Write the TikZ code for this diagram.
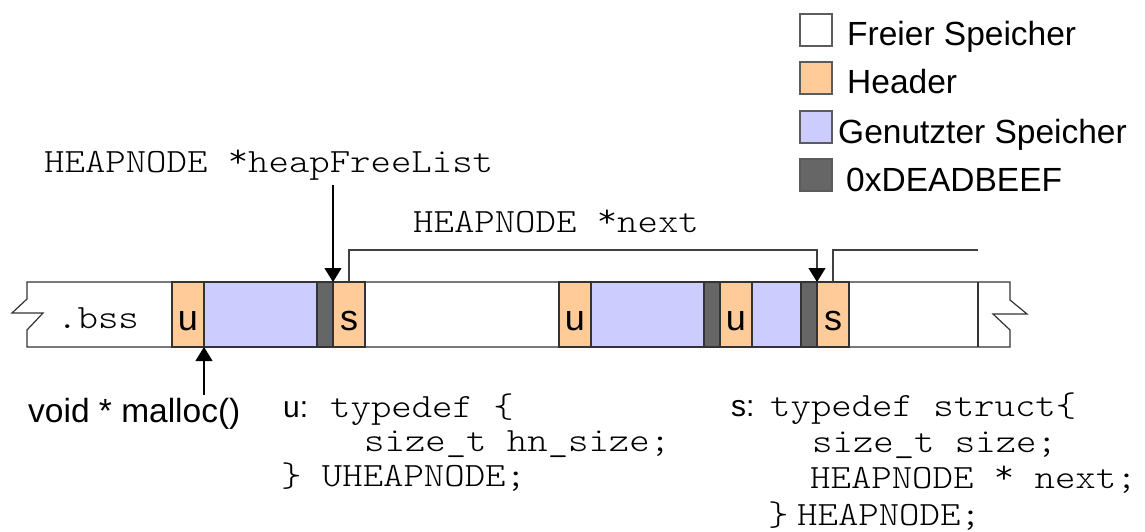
\documentclass[tikz,border=0pt]{standalone}
\usepackage{fontspec}
\setmainfont{Liberation Sans}
\setsansfont{Liberation Sans}
\setmonofont[FakeStretch=1.143]{Latin Modern Mono Light}
\usetikzlibrary{arrows.meta,calc}
\definecolor{hdr}{HTML}{FFCC99}
\definecolor{used}{HTML}{CCCCFF}
\definecolor{beef}{HTML}{666666}
\definecolor{edge}{HTML}{333333}
\definecolor{wire}{HTML}{404040}
% raised pointer star, as in Courier
\newcommand\cstar{\raisebox{5pt}{*}}
\begin{document}
\begin{tikzpicture}[x=1pt,y=-1pt,
  seg/.style={draw=edge,line width=1.2pt,minimum height=65pt,inner sep=0pt,outer sep=0pt,anchor=west},
  hdrseg/.style={seg,fill=hdr,minimum width=32pt},
  usedseg/.style={seg,fill=used},
  beefseg/.style={seg,fill=beef,minimum width=16pt},
  cell/.style={font=\fontsize{36}{36}\selectfont\sffamily,inner sep=0pt,anchor=base},
  code/.style={font=\fontsize{34}{34}\selectfont\ttfamily,inner sep=0pt,anchor=base west},
  tag/.style={font=\fontsize{30}{30}\selectfont\sffamily,inner sep=0pt,anchor=base west},
  caption/.style={font=\fontsize{33.5}{33.5}\selectfont\sffamily,inner sep=0pt,anchor=base west},
  keybox/.style={draw=edge!80,line width=1.2pt,minimum size=32pt,inner sep=0pt,outer sep=0pt,anchor=north west},
  tip/.style={-{Triangle[width=17pt,length=14pt,color=black]}},
  ptr/.style={line width=1.2pt,tip},
  link/.style={draw=wire,line width=1.2pt},
]
\useasboundingbox (0,0) rectangle (1145,532);

% memory strip outline with broken ends
\draw[draw=edge,line width=1.2pt,fill=white]
  (27,282) -- (1010,282) -- (1010,300) -- (1027,314) -- (993,314) -- (1010,330)
  -- (1010,347) -- (27,347) -- (27,330) -- (43,313) -- (12,313) -- (27,299) -- cycle;

% blocks of the heap
\node[hdrseg]                      (u1) at (172,314.5) {};
\node[usedseg,minimum width=113pt] (b1) at (204,314.5) {};
\node[beefseg]                     (d1) at (317,314.5) {};
\node[hdrseg]                      (s1) at (333,314.5) {};
\node[hdrseg]                      (u2) at (559,314.5) {};
\node[usedseg,minimum width=113pt] (b2) at (591,314.5) {};
\node[beefseg]                     (d2) at (704,314.5) {};
\node[hdrseg]                      (u3) at (720,314.5) {};
\node[usedseg,minimum width=49pt]  (b3) at (752,314.5) {};
\node[beefseg]                     (d3) at (801,314.5) {};
\node[hdrseg]                      (s2) at (817,314.5) {};
\node[seg,draw=none,minimum width=32pt] (f3) at (978,314.5) {};
\draw[draw=edge,line width=1.2pt] (f3.north west) -- (f3.south west);

% letters in the header blocks
\node[cell] (lu1) at ([yshift=17pt]u1.south) {u};
\node[cell] (ls1) at ([yshift=17pt]s1.south) {s};
\node[cell] (lu2) at ([yshift=17pt]u2.south) {u};
\node[cell] (lu3) at ([yshift=17pt]u3.south) {u};
\node[cell] (ls2) at ([yshift=17pt]s2.south) {s};

\node[code] (bss) at (57,328) {.bss};

% pointers into the heap
\node[code] (hfl) at (44,172) {HEAPNODE \cstar heapFreeList};
\coordinate (hfltail) at (333,185);
\draw[ptr] (hfltail) -- (s1.north west);

\node[code] (nxt) at (413,232) {HEAPNODE \cstar next};
\draw[link,tip] (s1.north) -- ++(0,-32) -| (s2.north west);
\coordinate (nextend) at (978,250);
\draw[link] (s2.north) |- (nextend);

\node[caption] (mal) at (28,422) {void * malloc()};
\coordinate (maltail) at (204,395);
\draw[ptr] (maltail) -- (u1.south east);

% header type definitions
\node[tag]  (ut)  at (283,417) {u:};
\node[code] (uc1) at (330,417) {typedef \{};
\node[code] (uc2) at (364,451) {size\_t hn\_size;};
\node[code] (uc3) at (281,486) {\} UHEAPNODE;};

\node[tag]  (st)  at (731,416) {s:};
\node[code] (sc1) at (770,416) {typedef struct\{};
\node[code] (sc2) at (812,452) {size\_t size;};
\node[code] (sc3) at (810,488) {HEAPNODE \cstar{} next;};
\node[code] (sc4) at (768,525) {\}};
\node[code] (sc5) at (797,525) {HEAPNODE;};

% legend
\node[keybox,fill=white] (k1) at (800,14)  {};
\node[keybox,fill=hdr]   (k2) at (800,62)  {};
\node[keybox,fill=used]  (k3) at (800,111) {};
\node[keybox,fill=beef]  (k4) at (800,159) {};
\node[caption] (t1) at (847,46)  {Freier Speicher};
\node[caption] (t2) at (847,94)  {Header};
\node[caption] (t3) at (838,143) {Genutzter Speicher};
\node[caption] (t4) at (846,191) {0xDEADBEEF};
\end{tikzpicture}
\end{document}
